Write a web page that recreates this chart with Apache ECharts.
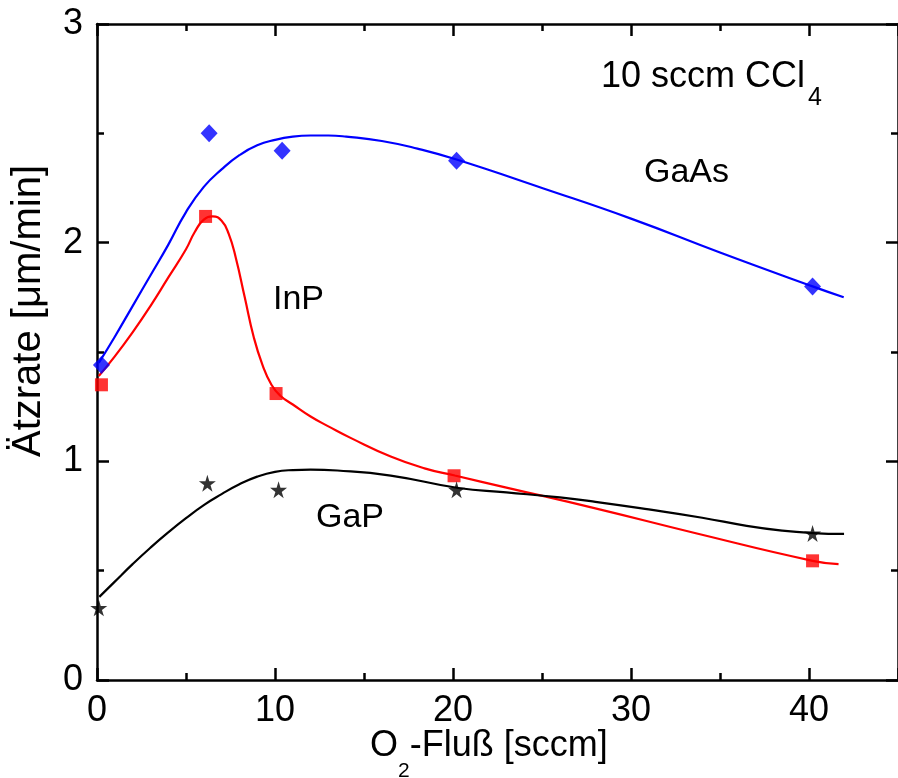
<!DOCTYPE html>
<html>
<head>
<meta charset="utf-8">
<style>
  html, body { margin: 0; padding: 0; background: #fff; }
  #chart { width: 898px; height: 778px; }
</style>
<script src="https://cdn.jsdelivr.net/npm/echarts@6/dist/echarts.min.js"></script>
</head>
<body>
<div id="chart"></div>
<script>
// Measured etch rates (µm/min) versus O2 flow (sccm)
const gaasX = [0.25, 6.3, 10.4, 20.2, 40.2];
const gaasY = [1.44, 2.50, 2.42, 2.375, 1.80];
const inpX = [0.25, 6.1, 10.06, 20.06, 40.2];
const inpY = [1.35, 2.12, 1.31, 0.934, 0.545];
const gapX = [0.1, 6.2, 10.2, 20.2, 40.2];
const gapY = [0.33, 0.90, 0.87, 0.87, 0.67];

// Fitted guide curves
const gaasFitX = [0.1, 1, 2, 3, 4, 5, 6, 7, 8, 9, 10, 11, 12, 13, 14, 16, 18, 20.2, 25, 30, 35, 40.2, 41.95];
const gaasFitY = [1.45, 1.57, 1.71, 1.85, 1.99, 2.14, 2.255, 2.335, 2.40, 2.445, 2.47, 2.485, 2.49, 2.49, 2.485, 2.465, 2.43, 2.38, 2.25, 2.11, 1.955, 1.80, 1.75];
const inpFitX = [0.1, 1, 2, 3, 4, 5, 5.5, 6.0, 6.5, 7.0, 7.4, 7.8, 8.3, 8.8, 9.3, 9.8, 10.3, 11, 12, 13, 14.3, 16.5, 18.4, 20.1, 23, 28, 33.7, 40.2, 41.66];
const inpFitY = [1.39, 1.48, 1.59, 1.71, 1.84, 1.97, 2.05, 2.105, 2.12, 2.10, 2.04, 1.93, 1.75, 1.57, 1.44, 1.35, 1.30, 1.26, 1.205, 1.16, 1.105, 1.022, 0.968, 0.935, 0.88, 0.785, 0.67, 0.545, 0.53];
const gapFitX = [0.13, 1, 2, 3, 4, 5, 6, 7, 8, 9, 10, 11, 12, 13.5, 16.5, 20.3, 23, 26, 28, 31, 34, 36.5, 38.5, 40.2, 41.97];
const gapFitY = [0.38, 0.45, 0.53, 0.605, 0.675, 0.74, 0.80, 0.85, 0.895, 0.93, 0.952, 0.96, 0.962, 0.958, 0.935, 0.878, 0.858, 0.835, 0.815, 0.78, 0.742, 0.705, 0.683, 0.672, 0.668];

// Axis ranges
const xMin = 0, xMax = 45, xStep = 10;
const yMin = 0, yMax = 3, yStep = 1;

const pairs = (xs, ys) => xs.map((x, i) => [x, ys[i]]);

const FONT = 'Liberation Sans, Arial, Helvetica, sans-serif';
const BLUE = '#0000ff';
const RED = '#ff0000';
const BLACK = '#000000';
const STAR = 'path://M50,0 L61,35 L98,35 L68,57 L79,91 L50,70 L21,91 L32,57 L2,35 L39,35 Z';

function axisCommon(extra) {
  return Object.assign({
    type: 'value',
    splitLine: { show: false },
    axisLine: { show: true, onZero: false, lineStyle: { color: BLACK, width: 2.5 } },
    axisTick: { show: true, inside: true, length: 12, lineStyle: { color: BLACK, width: 2.5 } },
    minorTick: { show: true, splitNumber: 2, length: 7, lineStyle: { color: BLACK, width: 2.5 } },
    minorSplitLine: { show: false }
  }, extra);
}

const chart = echarts.init(document.getElementById('chart'), null, { renderer: 'canvas' });

chart.setOption({
  animation: false,
  backgroundColor: '#ffffff',
  grid: { left: 97, top: 24, width: 805, height: 656, containLabel: false },
  xAxis: [
    axisCommon({
      position: 'bottom', min: xMin, max: xMax, interval: xStep,
      axisLabel: { show: true, fontSize: 36, color: BLACK, fontFamily: FONT, margin: 13, showMaxLabel: false }
    }),
    axisCommon({
      position: 'top', min: xMin, max: xMax, interval: xStep,
      axisLabel: { show: false }
    })
  ],
  yAxis: [
    axisCommon({
      position: 'left', min: yMin, max: yMax, interval: yStep,
      axisLabel: { show: true, fontSize: 36, color: BLACK, fontFamily: FONT, margin: 14 }
    }),
    axisCommon({
      position: 'right', min: yMin, max: yMax, interval: yStep,
      axisLabel: { show: false }
    })
  ],
  series: [
    { type: 'line', data: pairs(gaasFitX, gaasFitY), smooth: 0.5, showSymbol: false, lineStyle: { color: BLUE, width: 2.2 }, z: 2 },
    { type: 'line', data: pairs(inpFitX, inpFitY), smooth: 0.5, showSymbol: false, lineStyle: { color: RED, width: 2.2 }, z: 2 },
    { type: 'line', data: pairs(gapFitX, gapFitY), smooth: 0.5, showSymbol: false, lineStyle: { color: BLACK, width: 2.2 }, z: 2 },
    { type: 'scatter', data: pairs(gaasX, gaasY), symbol: 'diamond', symbolSize: [17, 18], itemStyle: { color: BLUE }, z: 3 },
    { type: 'scatter', data: pairs(inpX, inpY), symbol: 'rect', symbolSize: 13, itemStyle: { color: RED }, z: 3 },
    { type: 'scatter', data: pairs(gapX, gapY), symbol: STAR, symbolSize: 17, itemStyle: { color: BLACK }, z: 3 }
  ],
  graphic: [
    {
      type: 'text', left: 601, top: 59, z: 10,
      style: {
        text: '{m|10 sccm CCl}{s|4}', fill: BLACK,
        rich: {
          m: { fontSize: 36, fontFamily: FONT, lineHeight: 42, verticalAlign: 'top' },
          s: { fontSize: 25, fontFamily: FONT, lineHeight: 20, padding: [27, 0, 0, 3], verticalAlign: 'top' }
        }
      }
    },
    { type: 'text', left: 644, top: 156, z: 10, style: { text: 'GaAs', fontSize: 34, fontFamily: FONT, fill: BLACK } },
    { type: 'text', left: 273, top: 283, z: 10, style: { text: 'InP', fontSize: 34, fontFamily: FONT, fill: BLACK } },
    { type: 'text', left: 316, top: 501, z: 10, style: { text: 'GaP', fontSize: 34, fontFamily: FONT, fill: BLACK } },
    {
      type: 'text', left: 370, top: 728, z: 10,
      style: {
        text: '{m|O}{s|2}{m|-Fluß [sccm]}', fill: BLACK,
        rich: {
          m: { fontSize: 36, fontFamily: FONT, lineHeight: 42, verticalAlign: 'top' },
          s: { fontSize: 21, fontFamily: FONT, lineHeight: 18, padding: [33, 0, 0, 0], verticalAlign: 'top' }
        }
      }
    },
    {
      type: 'text', x: 29, y: 311, rotation: Math.PI / 2, z: 10,
      style: { text: 'Ätzrate [μm/min]', fontSize: 40, fontFamily: FONT, fill: BLACK, align: 'center', verticalAlign: 'middle' }
    }
  ]
});
</script>
</body>
</html>
